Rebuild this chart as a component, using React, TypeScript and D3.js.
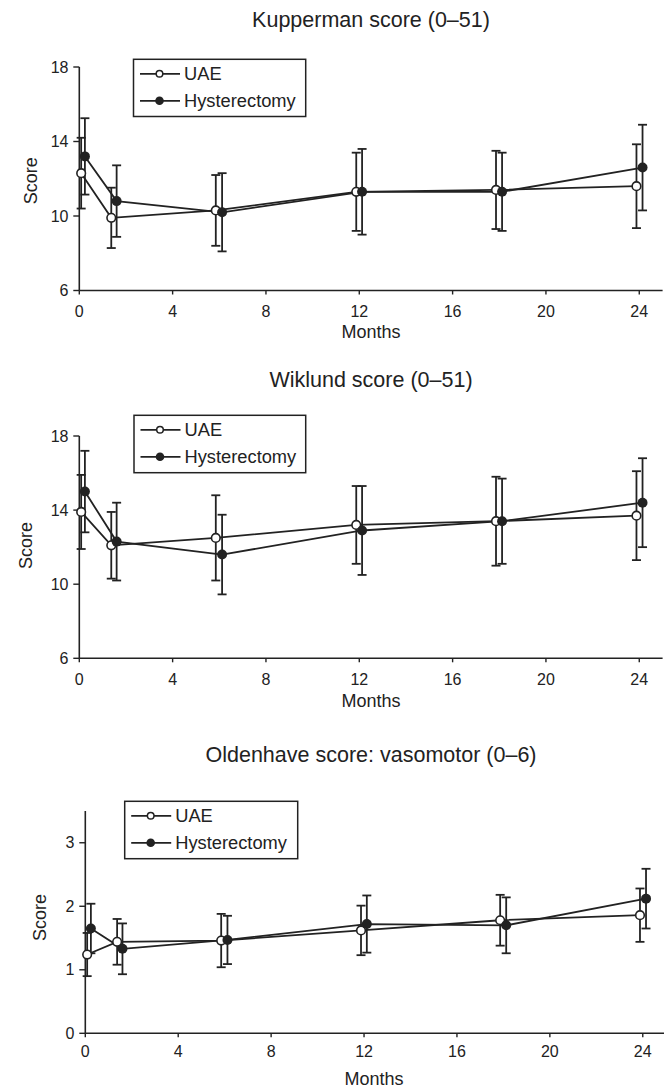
import React from "react";
import * as d3 from "d3";

// ---- data ----
const xTicks = [0, 4, 8, 12, 16, 20, 24];
const seriesNames = ["UAE", "Hysterectomy"];
// visit months (slightly offset per group, as in the figure)
const uaeMonths = [0.08, 1.37, 5.85, 11.87, 17.86, 23.88];
const hystMonths = [0.24, 1.6, 6.12, 12.12, 18.12, 24.14];

const kuppermanUae = [12.3, 9.9, 10.3, 11.3, 11.4, 11.6];
const kuppermanUaeErr = [1.9, 1.62, 1.9, 2.1, 2.1, 2.25];
const kuppermanHyst = [13.2, 10.8, 10.2, 11.3, 11.3, 12.6];
const kuppermanHystErr = [2.05, 1.92, 2.1, 2.3, 2.1, 2.3];

const wiklundUae = [13.9, 12.1, 12.5, 13.2, 13.4, 13.7];
const wiklundUaeErr = [2.0, 1.8, 2.3, 2.1, 2.4, 2.4];
const wiklundHyst = [15.0, 12.3, 11.6, 12.9, 13.4, 14.4];
const wiklundHystErr = [2.2, 2.1, 2.15, 2.4, 2.3, 2.4];

const oldenhaveUae = [1.24, 1.44, 1.46, 1.62, 1.78, 1.86];
const oldenhaveUaeErr = [0.34, 0.36, 0.42, 0.39, 0.4, 0.42];
const oldenhaveHyst = [1.65, 1.33, 1.47, 1.72, 1.7, 2.12];
const oldenhaveHystErr = [0.39, 0.4, 0.38, 0.45, 0.44, 0.47];

const titles = ["Kupperman score (0–51)", "Wiklund score (0–51)", "Oldenhave score: vasomotor (0–6)"];
const yTicksK = [6, 10, 14, 18];
const yTicksW = [6, 10, 14, 18];
const yTicksO = [0, 1, 2, 3];

// ---- layout ----
const FONT = "'Liberation Sans', Arial, Helvetica, sans-serif";
const INK = "#222";

const panels = [
  {
    title: titles[0], uae: kuppermanUae, uaeErr: kuppermanUaeErr, hyst: kuppermanHyst, hystErr: kuppermanHystErr,
    yDomain: [6, 18], yTicks: yTicksK,
    L: { left: 79.3, right: 662.6, top: 67, bottom: 290.5, titleY: 26.5, tickY: 316.7, xLabY: 337.5, yLabX: 31, yLabY: 180.7,
      leg: { x: 133.5, y: 59.3, w: 172.2, h: 57.2 } },
  },
  {
    title: titles[1], uae: wiklundUae, uaeErr: wiklundUaeErr, hyst: wiklundHyst, hystErr: wiklundHystErr,
    yDomain: [6, 18], yTicks: yTicksW,
    L: { left: 79.3, right: 662.6, top: 436, bottom: 658.3, titleY: 386.5, tickY: 685, xLabY: 706.5, yLabX: 25.7, yLabY: 545.5,
      leg: { x: 134, y: 415.3, w: 171.7, h: 57.4 } },
  },
  {
    title: titles[2], uae: oldenhaveUae, uaeErr: oldenhaveUaeErr, hyst: oldenhaveHyst, hystErr: oldenhaveHystErr,
    yDomain: [0, 3.5], yTicks: yTicksO,
    L: { left: 85.3, right: 666, top: 811, bottom: 1033.3, titleY: 762, tickY: 1056.5, xLabY: 1085, yLabX: 39.5, yLabY: 917.5,
      leg: { x: 124.7, y: 801.3, w: 173, h: 57.4 } },
  },
];

function Panel({ p }: { p: any }) {
  const L = p.L;
  const x = d3.scaleLinear().domain([0, 25]).range([L.left, L.right]);
  const y = d3.scaleLinear().domain(p.yDomain).range([L.bottom, L.top]);
  const mk = (months: number[], vals: number[]) =>
    d3.line<number>().x((_, i) => x(months[i])).y((v) => y(v))(vals) || "";
  const cap = 4.5;
  const errBars = (months: number[], vals: number[], errs: number[], key: string) =>
    vals.map((v, i) => {
      const cx = x(months[i]);
      const y1 = y(v + errs[i]);
      const y2 = y(v - errs[i]);
      return (
        <g key={key + i} stroke={INK} strokeWidth={1.8}>
          <line x1={cx} x2={cx} y1={y1} y2={y2} />
          <line x1={cx - cap} x2={cx + cap} y1={y1} y2={y1} />
          <line x1={cx - cap} x2={cx + cap} y1={y2} y2={y2} />
        </g>
      );
    });
  const yTop = p.yDomain[1];
  const cx = (L.left + 662.6) / 2;
  const lg = L.leg;
  return (
    <g fontFamily={FONT} fill={INK}>
      <text x={371} y={L.titleY} textAnchor="middle" fontSize={21.5}>{p.title}</text>
      {/* axes */}
      <line x1={L.left} x2={L.left} y1={y(yTop)} y2={L.bottom} stroke={INK} strokeWidth={1.6} />
      <line x1={L.left} x2={L.right} y1={L.bottom} y2={L.bottom} stroke={INK} strokeWidth={1.6} />
      {p.yTicks.map((t: number) => (
        <g key={"yt" + t}>
          <line x1={L.left - 6} x2={L.left} y1={y(t)} y2={y(t)} stroke={INK} strokeWidth={1.4} />
          <text x={L.left - 10.8} y={y(t) + 5.7} textAnchor="end" fontSize={16}>{t}</text>
        </g>
      ))}
      {xTicks.map((t) => (
        <g key={"xt" + t}>
          <line x1={x(t)} x2={x(t)} y1={L.bottom} y2={L.bottom + 4} stroke={INK} strokeWidth={1.4} />
          <text x={x(t)} y={L.tickY} textAnchor="middle" fontSize={16}>{t}</text>
        </g>
      ))}
      <text x={cx} y={L.xLabY} textAnchor="middle" fontSize={18}>Months</text>
      <text transform={`translate(${L.yLabX},${L.yLabY}) rotate(-90)`} textAnchor="middle" dominantBaseline="central" fontSize={18}>Score</text>
      {/* error bars */}
      {errBars(uaeMonths, p.uae, p.uaeErr, "ue")}
      {errBars(hystMonths, p.hyst, p.hystErr, "he")}
      {/* lines */}
      <path d={mk(uaeMonths, p.uae)} fill="none" stroke={INK} strokeWidth={1.8} />
      <path d={mk(hystMonths, p.hyst)} fill="none" stroke={INK} strokeWidth={1.8} />
      {/* markers */}
      {p.uae.map((v: number, i: number) => (
        <circle key={"um" + i} cx={x(uaeMonths[i])} cy={y(v)} r={4.3} fill="#fff" stroke={INK} strokeWidth={1.6} />
      ))}
      {p.hyst.map((v: number, i: number) => (
        <circle key={"hm" + i} cx={x(hystMonths[i])} cy={y(v)} r={5} fill={INK} stroke="none" />
      ))}
      {/* legend */}
      <rect x={lg.x} y={lg.y} width={lg.w} height={lg.h} fill="#fff" stroke={INK} strokeWidth={1.5} />
      {seriesNames.map((s, i) => {
        const ry = lg.y + 14.5 + i * 27;
        const lx = lg.x + 6.5;
        return (
          <g key={"lg" + s}>
            <line x1={lx} x2={lx + 40} y1={ry} y2={ry} stroke={INK} strokeWidth={1.8} />
            {i === 0 ? (
              <circle cx={lx + 19.5} cy={ry} r={3.3} fill="#fff" stroke={INK} strokeWidth={1.5} />
            ) : (
              <circle cx={lx + 19.5} cy={ry} r={4.3} fill={INK} />
            )}
            <text x={lx + 44} y={ry + 6.5} fontSize={18.3}>{s}</text>
          </g>
        );
      })}
    </g>
  );
}

export default function App() {
  return (
    <svg width={664} height={1088} style={{ position: "absolute", left: 0, top: 0, background: "#fff" }}>
      <rect width={664} height={1088} fill="#fff" />
      {panels.map((p, i) => (
        <Panel key={i} p={p} />
      ))}
    </svg>
  );
}
